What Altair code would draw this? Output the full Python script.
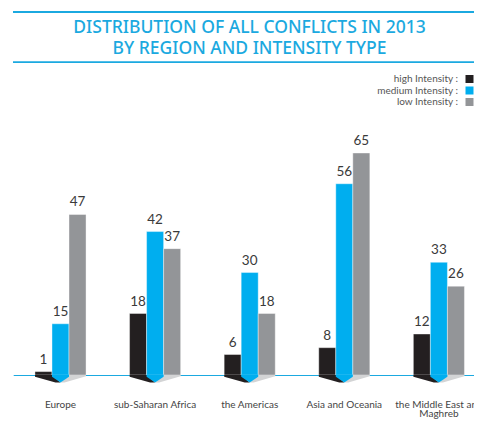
import altair as alt
import pandas as pd

regions = ["Europe", "sub-Saharan Africa", "the Americas", "Asia and Oceania", "the Middle East and Maghreb"]
series = ["high Intensity :", "medium Intensity :", "low Intensity :"]
high = [1, 18, 6, 8, 12]
medium = [15, 42, 30, 56, 33]
low = [47, 37, 18, 65, 26]
colors = ["#231f20", "#00aeef", "#939598"]
title_lines = ["DISTRIBUTION OF ALL CONFLICTS IN 2013", "BY REGION AND INTENSITY TYPE"]

rows = []
for s, vals in zip(series, [high, medium, low]):
    for r, v in zip(regions, vals):
        rows.append({"region": r, "series": s, "value": v})
df = pd.DataFrame(rows)
reg_df = pd.DataFrame({"region": regions, "zero": [0] * len(regions)})
leg_df = pd.DataFrame({"series": series})
one = pd.DataFrame({"k": [0]})

FONT = "Lato"
TFONT = "Noto Sans"
CYAN = "#1ba9e0"
NB = chr(160)
line1 = "the Middle East and" + NB * 7
line2 = "Maghreb" + NB * 4

xenc = alt.X(
    "region:N", sort=regions,
    scale=alt.Scale(range=[5.2, 478.2], paddingInner=0.46, paddingOuter=0.23),
    axis=alt.Axis(title=None, labelAngle=0, ticks=False, domainColor=CYAN, domainWidth=1.2,
                  labelPadding=24, labelFontSize=10, labelColor="#444", labelFont=FONT,
                  labelLineHeight=9.8, labelBaseline="top",
                  labelExpr="datum.label == 'the Middle East and Maghreb' ? ['" + line1 + "', '" + line2 + "'] : datum.label"),
)
yscale = alt.Scale(domain=[0, 65], range=[367, 145])
yenc = alt.Y("value:Q", scale=yscale, axis=None)
cenc = alt.Color("series:N", scale=alt.Scale(domain=series, range=colors), legend=None)
xoff = alt.XOffset("series:N", sort=series, scale=alt.Scale(paddingInner=0, paddingOuter=0))

base = alt.Chart(df)
bars = base.mark_bar(stroke="white", strokeWidth=0.4).encode(x=xenc, xOffset=xoff, y=yenc, color=cenc)
labels = base.mark_text(baseline="alphabetic", dy=-8, fontSize=13.5, font=FONT, color="#3a3a3a").encode(
    x=xenc, xOffset=xoff, y=yenc, text="value:Q")

sh = alt.Chart(reg_df)
y0 = alt.Y("zero:Q", scale=yscale, axis=None)
dark_shadow = sh.mark_point(shape="M-25.5,0L-8.5,0L0,7.5L-5,7.5L-25.5,1.8Z", size=4, filled=True,
                            opacity=1, color="#231f20", strokeWidth=0).encode(x=xenc, y=y0)
light_shadow = sh.mark_point(shape="M8.5,0L25.5,0L25.5,1.2L4,7.5L0,7.5Z", size=4, filled=True,
                             opacity=1, color="#d3d4d5", strokeWidth=0).encode(x=xenc, y=y0)
tip = sh.mark_point(shape="M-8.5,-0.5L8.5,-0.5L8.5,1.8L0,7.5L-8.5,1.8Z", size=4, filled=True,
                    opacity=1, color="#00aeef", strokeWidth=0).encode(x=xenc, y=y0)

t = alt.Chart(one)
title = t.mark_text(text=title_lines, font=TFONT, fontSize=17.5, fontWeight=500, color=CYAN, align="center",
                    baseline="middle", lineHeight=21).encode(x=alt.value(241.5), y=alt.value(20))
rule_bot = t.mark_rect(color=CYAN, opacity=1).encode(
    x=alt.value(5), x2=alt.value(466), y=alt.value(53.2), y2=alt.value(55))
rule_top = t.mark_rect(color=CYAN, opacity=1).encode(
    x=alt.value(5), x2=alt.value(466), y=alt.value(3), y2=alt.value(5))

main = alt.layer(bars, dark_shadow, light_shadow, tip, labels, title, rule_bot, rule_top)

lg = alt.Chart(leg_df)
ly = alt.Y("series:N", sort=series, scale=alt.Scale(type="point", range=[71, 94], padding=0), axis=None)
leg_text = lg.mark_text(align="right", baseline="middle", font=FONT, fontSize=10, color="#555").encode(
    x=alt.value(450), y=ly, text="series:N")
leg_sq = lg.mark_square(size=64, opacity=1).encode(x=alt.value(461.5), y=ly, color=cenc)
legend = alt.layer(leg_text, leg_sq)

chart = alt.layer(main, legend).resolve_scale(y="independent").properties(
    width=466, height=367, padding={"left": 0, "top": 0, "right": 0, "bottom": 44}, autosize="none"
).configure_view(stroke=None)

chart.save("out.html", embed_options={"renderer": "svg", "actions": False})
